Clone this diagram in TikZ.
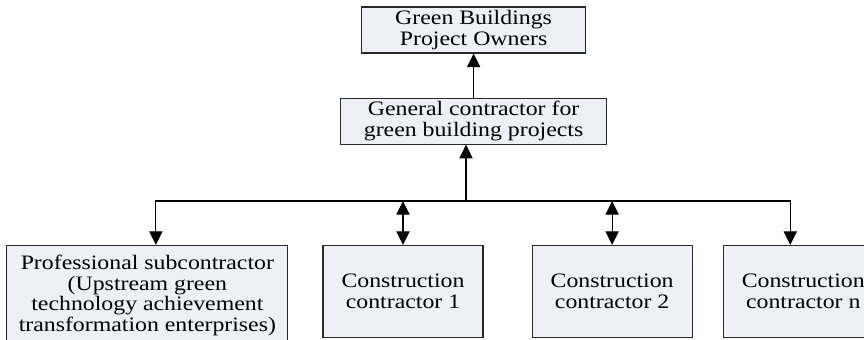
\documentclass[tikz,border=0pt]{standalone}
\usepackage{fontspec}
\setmainfont{Liberation Serif}[FakeStretch=1.16]
\usetikzlibrary{arrows.meta, positioning, calc}
\definecolor{boxfill}{RGB}{238,240,246}
\definecolor{boxline}{RGB}{40,40,40}
\tikzset{
    org/.style={rectangle, draw=boxline, fill=boxfill, line width=0.8pt, inner sep=1pt, align=center, font=\fontsize{14.6}{14.7}\selectfont},
    arrow/.style={line width=0.8pt, -{Triangle[length=0.34cm, width=0.33cm]}},
    twoway/.style={line width=0.8pt, {Triangle[length=0.34cm, width=0.33cm]}-{Triangle[length=0.34cm, width=0.33cm]}}
}

\begin{document}
\begin{tikzpicture}[node distance=1.1cm and 0.85cm]
    \useasboundingbox (0,0) rectangle (21.6,-8.5);
    \node (owners) [org, minimum width=5.6cm, minimum height=1.15cm] at (11.84,-0.75) {Green Buildings\\Project Owners};
    \node (general) [org, minimum width=6.65cm, minimum height=1.15cm, below=of owners] {General contractor for\\green building projects};

    \node (c1) [org, minimum width=4cm, minimum height=2.3cm, anchor=north] at (10.075,-6.125) {Construction\\contractor 1};
    \node (c2) [org, minimum width=4cm, minimum height=2.3cm, right=1.2cm of c1] {Construction\\contractor 2};
    \node (cn) [org, minimum width=4cm, minimum height=2.3cm, right=0.75cm of c2] {Construction\\contractor n};
    \node (prof) [org, minimum width=7.025cm, minimum height=2.5cm, left=of c1.north west, anchor=north east] {Professional subcontractor\\(Upstream green\\technology achievement\\transformation enterprises)};

    \coordinate (bus) at (11.65,-5.025);

    \draw [arrow] (general) -- (owners);
    \draw [arrow] (bus) -- (bus |- general.south);
    \draw [arrow] (bus) -| ([xshift=0.2125cm]prof.north);
    \draw [arrow] (bus) -| ([xshift=-0.325cm]cn.north);
    \draw [twoway] (bus -| c1.north) -- (c1.north);
    \draw [twoway] (bus -| c2.north) -- (c2.north);
\end{tikzpicture}
\end{document}
